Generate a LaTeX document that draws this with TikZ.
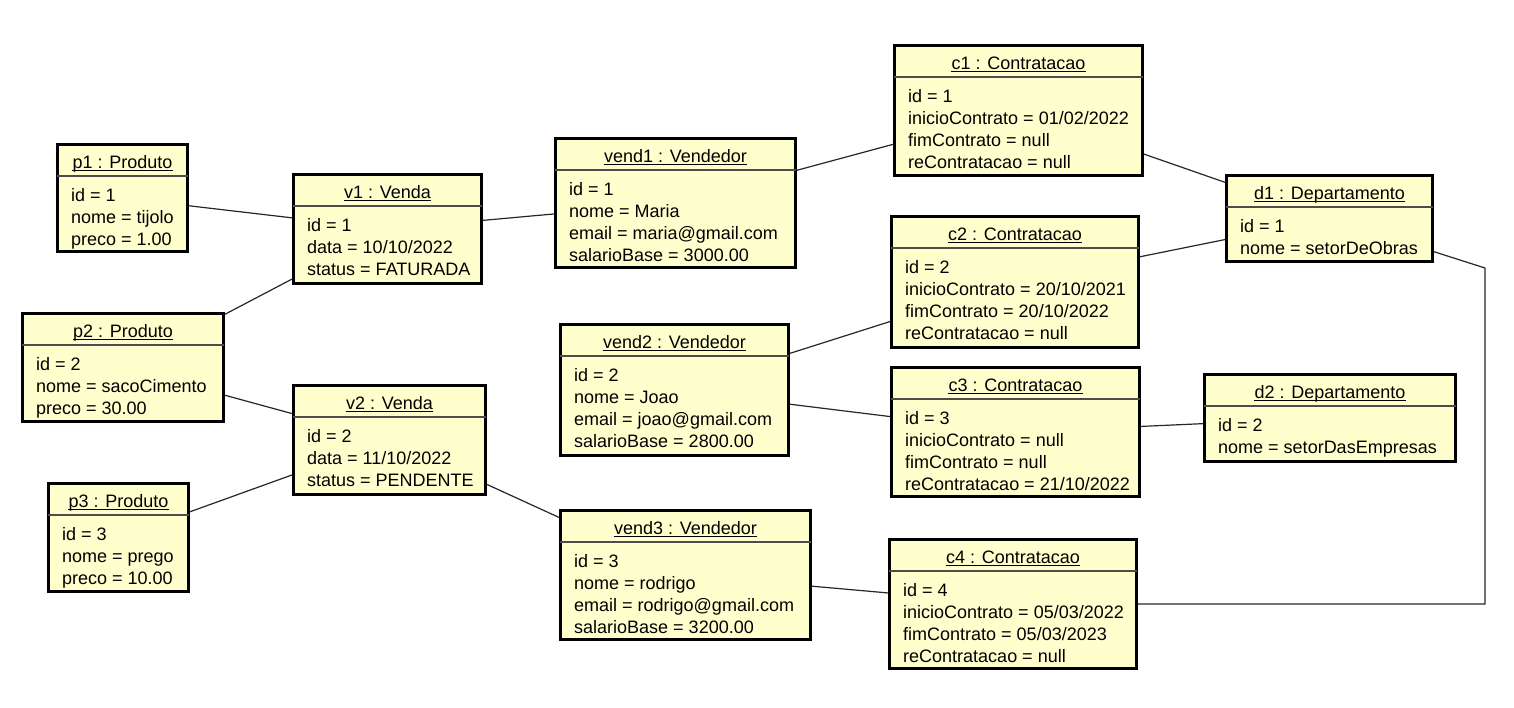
\documentclass[tikz,border=0pt]{standalone}
\usepackage{fontspec}
\setmainfont{Liberation Sans}[Ligatures=NoCommon]
\usepackage{tikz}
\usetikzlibrary{positioning, calc}
\usepackage{xcolor}
\definecolor{objfond}{RGB}{255,255,206}

\tikzset{
  objbox/.style={draw=black, line width=2.6pt, fill=objfond, anchor=north west, inner sep=0pt},
  objtitre/.style={anchor=base, inner sep=0pt, font=\fontsize{18}{22}\selectfont},
  objligne/.style={anchor=base west, inner sep=0pt, font=\fontsize{18}{22}\selectfont},
  objsep/.style={line width=1.1pt, black!70},
  objsouligne/.style={line width=1pt, black},
  lien/.style={line width=1.2pt, black!85}
}

% objet : nom, x, y, largeur, hauteur, titre, attributs
\newcommand{\objet}[7]{
  \node[objbox, minimum width={#4pt-2.6pt}, minimum height={#5pt-2.6pt}] (#1) at (#2,#3) {};
  \node[objtitre] (#1-titre) at ($(#1.north)+(0,25)$) {#6};
  \draw[objsouligne] ($(#1-titre.base west)+(0,2.5)$) -- ($(#1-titre.base east)+(0,2.5)$);
  \draw[objsep] ($(#1.north west)+(1.3,33)$) -- ($(#1.north east)+(-1.3,33)$);
  \foreach \ligne [count=\i] in {#7} {
    \node[objligne] (#1-\i) at ($(#1.north west)+(15,36+22*\i)$) {\ligne};
  }
}

\begin{document}
\begin{tikzpicture}[x=1pt, y=-1pt]
  % Cadre
  \useasboundingbox (0,0) rectangle (1514,707);

  % --- Produtos et vendas ---
  \objet{p1}{56}{143}{133}{110}{p1 : Produto}{id = 1, nome = tijolo, preco = 1.00}
  \objet{v1}{292}{173}{191}{112}{v1 : Venda}{id = 1, data = 10/10/2022, status = FATURADA}
  \objet{p2}{21}{312}{204}{111}{p2 : Produto}{id = 2, nome = sacoCimento, preco = 30.00}
  \objet{v2}{292}{384}{195}{112}{v2 : Venda}{id = 2, data = 11/10/2022, status = PENDENTE}
  \objet{p3}{47}{482}{143}{111}{p3 : Produto}{id = 3, nome = prego, preco = 10.00}

  % --- Vendedores ---
  \objet{vend1}{554}{137}{243}{132}{vend1 : Vendedor}{id = 1, nome = Maria, email = maria@gmail.com, salarioBase = 3000.00}
  \objet{vend2}{559}{323}{231}{134}{vend2 : Vendedor}{id = 2, nome = Joao, email = joao@gmail.com, salarioBase = 2800.00}
  \objet{vend3}{559}{509}{253}{132}{vend3 : Vendedor}{id = 3, nome = rodrigo, email = rodrigo@gmail.com, salarioBase = 3200.00}

  % --- Contratacoes ---
  \objet{c1}{893}{44}{251}{133}{c1 : Contratacao}{id = 1, inicioContrato = 01/02/2022, fimContrato = null, reContratacao = null}
  \objet{c2}{890}{215}{250}{134}{c2 : Contratacao}{id = 2, inicioContrato = 20/10/2021, fimContrato = 20/10/2022, reContratacao = null}
  \objet{c3}{890}{366}{251}{132}{c3 : Contratacao}{id = 3, inicioContrato = null, fimContrato = null, reContratacao = 21/10/2022}
  \objet{c4}{888}{538}{250}{132}{c4 : Contratacao}{id = 4, inicioContrato = 05/03/2022, fimContrato = 05/03/2023, reContratacao = null}

  % --- Departamentos ---
  \objet{d1}{1225}{174}{209}{89}{d1 : Departamento}{id = 1, nome = setorDeObras}
  \objet{d2}{1203}{373}{254}{90}{d2 : Departamento}{id = 2, nome = setorDasEmpresas}

  % --- Liens ---
  \draw[lien] (p1) -- (v1);
  \draw[lien] (v1) -- (p2);
  \draw[lien] (p2) -- (v2);
  \draw[lien] (p3) -- (v2);
  \draw[lien] (v1) -- (vend1);
  \draw[lien] (v2) -- (vend3);
  \draw[lien] (vend1) -- (c1);
  \draw[lien] (vend2) -- (c2);
  \draw[lien] (vend2) -- (c3);
  \draw[lien] (vend3) -- (c4);
  \draw[lien] (c1) -- (d1);
  \draw[lien] (c2) -- (d1);
  \draw[lien] (c3) -- (d2);

  % lien coude d1 -> c4
  \coordinate (coude) at (1485,268);
  \draw[lien] (d1) -- (coude) |- (c4);
\end{tikzpicture}
\end{document}
